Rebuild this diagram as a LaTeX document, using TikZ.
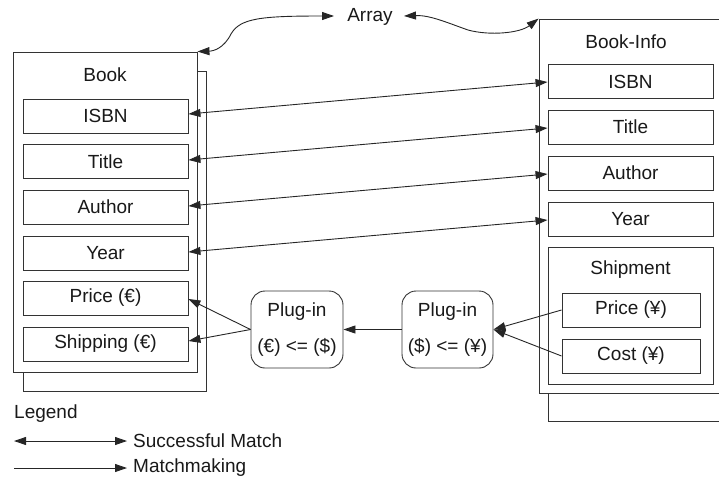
\documentclass[tikz,border=0pt]{standalone}
\usepackage{fontspec}
\setmainfont{Liberation Sans}
\usetikzlibrary{arrows.meta,calc}
\begin{document}
\begin{tikzpicture}[x=1pt,y=-1pt,
  every node/.style={font=\fontsize{19}{22}\selectfont, text=black!90},
  frame/.style={draw=black!80, line width=0.9pt, fill=white, inner sep=0pt},
  field/.style={frame, minimum width=165pt, minimum height=34pt},
  subfield/.style={frame, minimum width=138pt, minimum height=34pt},
  plugin/.style={draw=black!80, line width=0.9pt, rounded corners=14pt, minimum width=92pt, minimum height=77pt, align=center, inner sep=0pt, font=\fontsize{19}{36}\selectfont},
  lbl/.style={inner sep=0pt},
  tip/.style={line width=0.9pt, draw=black!85},
  dbl/.style={tip, {Triangle[length=12pt,width=8pt]}-{Triangle[length=12pt,width=8pt]}},
  one/.style={tip, -{Triangle[length=12pt,width=8pt]}}
]
\useasboundingbox (0,0) rectangle (719,480);

% Left: Book
\node[frame, minimum width=183pt, minimum height=320pt] (lback) at (114.5,231) {};
\node[frame, minimum width=184pt, minimum height=320pt] (lfront) at (105,212) {};
\node[lbl] (lbook) at (105,75) {Book};
\node[field] (lisbn) at (105.5,116) {ISBN};
\node[field] (ltitle) at (105.5,161.5) {Title};
\node[field] (lauthor) at (105.5,207) {Author};
\node[field] (lyear) at (105.5,253) {Year};
\node[field] (lprice) at (105.5,298) {Price (€)};
\node[field] (lship) at (105.5,344) {Shipping (€)};

% Right: Book-Info
\node[frame, minimum width=200pt, minimum height=383pt] (rback) at (648,229.5) {};
\node[frame, minimum width=200pt, minimum height=374pt] (rfront) at (639,206) {};
\node[lbl] (rbookinfo) at (626,42) {Book-Info};
\node[field] (risbn) at (630.5,81.5) {ISBN};
\node[field] (rtitle) at (630.5,127) {Title};
\node[field] (rauthor) at (630.5,173) {Author};
\node[field] (ryear) at (630.5,219) {Year};
\node[frame, minimum width=165pt, minimum height=137pt] (rship) at (630.5,315.5) {};
\node[lbl] (rshiplbl) at (630.5,270) {Shipment};
\node[subfield] (rprice) at (631,310) {Price (¥)};
\node[subfield] (rcost) at (631,356) {Cost (¥)};

% Plug-ins
\node[plugin] (p1) at (297,329.5) {Plug-in\\(€) <= (\$)};
\node[plugin, minimum width=91pt] (p2) at (447.5,329.5) {Plug-in\\(\$) <= (¥)};

% Array
\node[lbl] (array) at (370,17) {Array};
\coordinate (acl) at (334,16);
\coordinate (acr) at (404,16);
\draw[dbl] (acl) .. controls (262,16) and (240,18) .. (231,34) .. controls (224,48) and (214,51) .. (lfront.north east);
\draw[dbl] (acr) .. controls (430,15) and (448,23) .. (468,30) .. controls (490,36) and (520,33) .. (rfront.north west);

% Successful matches
\draw[dbl] ($(lisbn.east)+(0,-2)$) -- ($(risbn.west)+(0,0.5)$);
\draw[dbl] ($(ltitle.east)+(0,-1.5)$) -- ($(rtitle.west)+(0,1)$);
\draw[dbl] ($(lauthor.east)+(0,-1)$) -- ($(rauthor.west)+(0,1)$);
\draw[dbl] ($(lyear.east)+(0,-1)$) -- ($(ryear.west)+(0,1)$);

% Matchmaking
\draw[one] (p1.west) -- ($(lprice.east)+(0,1)$);
\draw[one] (p1.west) -- ($(lship.east)+(0,-3)$);
\draw[one] (p2.west) -- (p1.east);
\draw[one] (rprice.west) -- (p2.east);
\draw[one] (rcost.west) -- (p2.east);

% Legend
\node[lbl, anchor=west] (legend) at (14,414) {Legend};
\node[lbl, anchor=west] (lgs) at (133,441) {Successful Match};
\node[lbl, anchor=west] (lgm) at (133,468) {Matchmaking};
\coordinate (lgs0) at (14,441);
\coordinate (lgm0) at (14,468);
\draw[dbl] (lgs0) -- ($(lgs.west)+(-6,0)$);
\draw[one] (lgm0) -- ($(lgm.west)+(-6,0)$);
\end{tikzpicture}
\end{document}
